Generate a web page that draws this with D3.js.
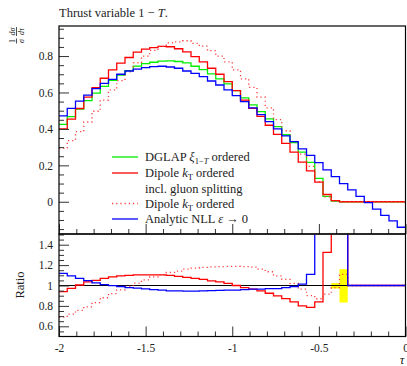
<!DOCTYPE html>
<html>
<head>
<meta charset="utf-8">
<script src="https://cdn.jsdelivr.net/npm/d3@7"></script>
<style>
  body { margin: 0; background: #fff; }
  text { font-family: "Liberation Serif", "DejaVu Serif", serif; fill: #222; }
</style>
</head>
<body>
<div id="chart"></div>
<script>
// 42 bins in tau from -2 to 0
var nBins = 42;
var tauEdges = d3.range(nBins + 1).map(i => -2 + 2 * i / nBins);

// main panel: 1/sigma dsigma/dtau
var dglap = [0.425, 0.467, 0.509, 0.555, 0.597, 0.634, 0.667, 0.695, 0.720, 0.745,
    0.758, 0.766, 0.772, 0.773, 0.770, 0.762, 0.744, 0.725, 0.702, 0.675,
    0.647, 0.610, 0.570, 0.532, 0.495, 0.455, 0.412, 0.368, 0.325, 0.272,
    0.216, 0.128, 0.030, 0.003, 0, 0, 0, 0, 0, 0, 0, 0];
var dipole = [0.400, 0.454, 0.512, 0.574, 0.627, 0.678, 0.724, 0.761, 0.792, 0.822,
    0.838, 0.846, 0.853, 0.851, 0.840, 0.823, 0.797, 0.768, 0.733, 0.700,
    0.660, 0.610, 0.558, 0.513, 0.469, 0.420, 0.370, 0.321, 0.273, 0.218,
    0.170, 0.108, 0.040, 0.006, 0, 0, 0, 0, 0, 0, 0, 0];
var dipoleNoSplit = [0.293, 0.336, 0.385, 0.438, 0.497, 0.558, 0.614, 0.665, 0.713, 0.762,
    0.800, 0.831, 0.853, 0.872, 0.878, 0.884, 0.870, 0.854, 0.830, 0.800,
    0.768, 0.724, 0.675, 0.628, 0.574, 0.516, 0.451, 0.390, 0.331, 0.262,
    0.194, 0.111, 0.027, 0.003, 0, 0, 0, 0, 0, 0, 0, 0];
var analytic = [0.472, 0.513, 0.553, 0.586, 0.621, 0.650, 0.672, 0.700, 0.718, 0.728,
    0.736, 0.742, 0.744, 0.740, 0.733, 0.718, 0.705, 0.687, 0.663, 0.641,
    0.614, 0.583, 0.550, 0.516, 0.478, 0.440, 0.400, 0.362, 0.330, 0.290,
    0.255, 0.215, 0.175, 0.138, 0.100, 0.065, 0.030, -0.005, -0.040, -0.075,
    -0.105, -0.140];

// ratio panel (to DGLAP)
var ratioDipole = [0.94, 0.972, 1.005, 1.035, 1.05, 1.07, 1.085, 1.095, 1.10, 1.105,
    1.105, 1.105, 1.105, 1.10, 1.09, 1.08, 1.07, 1.06, 1.045, 1.035,
    1.02, 1.0, 0.98, 0.965, 0.947, 0.924, 0.898, 0.872, 0.84, 0.80,
    0.785, 0.84, 1.325, 2.5, 2.5, 1, 1, 1, 1, 1, 1, 1];
var ratioDipoleNoSplit = [0.69, 0.72, 0.757, 0.79, 0.833, 0.88, 0.92, 0.957, 0.99, 1.023,
    1.055, 1.085, 1.105, 1.128, 1.14, 1.16, 1.17, 1.178, 1.183, 1.186,
    1.187, 1.187, 1.185, 1.18, 1.16, 1.135, 1.095, 1.06, 1.02, 0.964,
    0.90, 0.87, 0.915, 0.98, 1.11, 1, 1, 1, 1, 1, 1, 1];
var ratioAnalytic = [1.118, 1.095, 1.07, 1.048, 1.026, 1.008, 0.998, 0.99, 0.98, 0.975,
    0.967, 0.96, 0.954, 0.947, 0.947, 0.944, 0.944, 0.947, 0.95, 0.952,
    0.954, 0.954, 0.96, 0.964, 0.964, 0.97, 0.97, 0.98, 0.99, 1.013,
    1.11, 2.5, 2.5, 2.5, 2.5, 1, 1, 1, 1, 1, 1, 1];

// yellow uncertainty band in the ratio panel
var bandBins = [33, 34];
var bandLow = [0.97, 0.833];
var bandHigh = [1.023, 1.16];

var mainTicks = [0, 0.2, 0.4, 0.6, 0.8];
var ratioTicks = [0.6, 0.8, 1, 1.2, 1.4];
var xTicks = [-2, -1.5, -1, -0.5, 0];

var width = 407, height = 366;
var left = 59, right = 405.5;
var mainTop = 26, mainBottom = 234, ratioTop = 234.5, ratioBottom = 336.5;

var svg = d3.select("#chart").append("svg")
    .attr("width", width)
    .attr("height", height);

var x = d3.scaleLinear().domain([-2, 0]).range([left, right]);
var yMain = d3.scaleLinear().domain([-0.177, 0.965]).range([mainBottom, mainTop]);
var yRatio = d3.scaleLinear().domain([0.5, 1.5]).range([ratioBottom, ratioTop]);

var defs = svg.append("defs");
defs.append("clipPath").attr("id", "clipMain").append("rect")
    .attr("x", left).attr("y", mainTop).attr("width", right - left).attr("height", mainBottom - mainTop);
defs.append("clipPath").attr("id", "clipRatio").append("rect")
    .attr("x", left).attr("y", ratioTop).attr("width", right - left).attr("height", ratioBottom - ratioTop);

function stepPoints(vals) {
    var pts = vals.map((v, i) => [tauEdges[i], v]);
    pts.push([tauEdges[nBins], vals[nBins - 1]]);
    return pts;
}
function stepLine(yScale) {
    return d3.line().x(d => x(d[0])).y(d => yScale(d[1])).curve(d3.curveStepAfter);
}

var series = [
    { main: dglap, ratio: null, color: "#00ee00", dash: null },
    { main: dipole, ratio: ratioDipole, color: "#ff0000", dash: null },
    { main: dipoleNoSplit, ratio: ratioDipoleNoSplit, color: "#ff3b3b", dash: "1.2,3" },
    { main: analytic, ratio: ratioAnalytic, color: "#0000ff", dash: null }
];

// Title
svg.append("text")
    .attr("x", 59).attr("y", 17)
    .style("font-size", "12.5px")
    .html("Thrust variable 1 \u2212 <tspan font-style='italic'>T</tspan>.");

// main panel lines
var gMain = svg.append("g").attr("clip-path", "url(#clipMain)");
series.forEach(function (s) {
    gMain.append("path")
        .attr("d", stepLine(yMain)(stepPoints(s.main)))
        .attr("fill", "none")
        .attr("stroke", s.color)
        .attr("stroke-width", 1.3)
        .attr("stroke-dasharray", s.dash);
});

// ratio panel
var gRatio = svg.append("g").attr("clip-path", "url(#clipRatio)");
gRatio.selectAll("rect.band")
    .data(bandBins)
    .enter()
    .append("rect")
    .attr("class", "band")
    .attr("x", d => x(tauEdges[d]))
    .attr("width", d => x(tauEdges[d + 1]) - x(tauEdges[d]))
    .attr("y", (d, i) => yRatio(bandHigh[i]))
    .attr("height", (d, i) => yRatio(bandLow[i]) - yRatio(bandHigh[i]))
    .attr("fill", "#ffff00");
gRatio.append("line")
    .attr("x1", left).attr("x2", right)
    .attr("y1", yRatio(1)).attr("y2", yRatio(1))
    .attr("stroke", "#000").attr("stroke-width", 1.2);
series.filter(s => s.ratio).forEach(function (s) {
    gRatio.append("path")
        .attr("d", stepLine(yRatio)(stepPoints(s.ratio)))
        .attr("fill", "none")
        .attr("stroke", s.color)
        .attr("stroke-width", 1.3)
        .attr("stroke-dasharray", s.dash);
});

// axes
function styleAxis(g) {
    g.select(".domain").remove();
    g.selectAll(".tick line").attr("stroke", "#333");
    g.selectAll(".tick text")
        .style("font-family", "'Liberation Serif', serif")
        .style("font-size", "11.5px")
        .attr("fill", "#222");
}
var minorMain = d3.range(-0.15, 0.951, 0.05).filter(v => Math.abs(Math.round(v * 20) % 4) != 0);
var minorRatio = d3.range(0.55, 1.501, 0.05).filter(v => Math.abs(Math.round(v * 20) % 4) != 0);
var minorX = d3.range(-1.9, -0.05, 0.1).filter(v => Math.abs(Math.round(v * 10) % 5) != 0);

svg.append("g").attr("transform", "translate(" + left + ",0)")
    .call(d3.axisLeft(yMain).tickValues(mainTicks).tickSize(-10).tickPadding(6).tickFormat(d => String(d)))
    .call(styleAxis);
svg.append("g").attr("transform", "translate(" + left + ",0)")
    .call(d3.axisLeft(yMain).tickValues(minorMain).tickSize(-5).tickFormat(""))
    .call(styleAxis);
svg.append("g").attr("transform", "translate(" + left + ",0)")
    .call(d3.axisLeft(yRatio).tickValues(ratioTicks).tickSize(-10).tickPadding(6).tickFormat(d => String(d)))
    .call(styleAxis);
svg.append("g").attr("transform", "translate(" + left + ",0)")
    .call(d3.axisLeft(yRatio).tickValues(minorRatio).tickSize(-5).tickFormat(""))
    .call(styleAxis);

[mainBottom, ratioBottom].forEach(function (yy, k) {
    svg.append("g").attr("transform", "translate(0," + yy + ")")
        .call(d3.axisBottom(x).tickValues(xTicks).tickSize(-10).tickPadding(7)
            .tickFormat(k == 1 ? (d => String(d)) : ""))
        .call(styleAxis);
    svg.append("g").attr("transform", "translate(0," + yy + ")")
        .call(d3.axisBottom(x).tickValues(minorX).tickSize(-5).tickFormat(""))
        .call(styleAxis);
});

// frames
svg.append("rect")
    .attr("x", left).attr("y", mainTop).attr("width", right - left).attr("height", mainBottom - mainTop)
    .attr("fill", "none").attr("stroke", "#000").attr("stroke-width", 1.2);
svg.append("rect")
    .attr("x", left).attr("y", mainBottom).attr("width", right - left).attr("height", ratioBottom - mainBottom)
    .attr("fill", "none").attr("stroke", "#000").attr("stroke-width", 1.2);

// axis titles
svg.append("text")
    .attr("x", 402).attr("y", 364)
    .attr("text-anchor", "middle")
    .style("font-size", "13px").style("font-style", "italic")
    .text("\u03c4");
svg.append("text")
    .attr("transform", "translate(24,285) rotate(-90)")
    .attr("text-anchor", "middle")
    .style("font-size", "12.5px")
    .text("Ratio");

var yl = svg.append("g").attr("transform", "translate(16,36) rotate(-90)");
var frac = [
    { u: -5, top: "1", bot: "\u03c3", w: 5 },
    { u: 4.5, top: "d\u03c3", bot: "d\u03c4", w: 9 }
];
frac.forEach(function (f) {
    yl.append("text").attr("x", f.u).attr("y", -1.5).attr("text-anchor", "middle")
        .style("font-size", "8px").style("font-style", f.top == "1" ? "normal" : "italic").text(f.top);
    yl.append("text").attr("x", f.u).attr("y", 7.5).attr("text-anchor", "middle")
        .style("font-size", "8px").style("font-style", "italic").text(f.bot);
    yl.append("line").attr("x1", f.u - f.w / 2).attr("x2", f.u + f.w / 2)
        .attr("y1", 0.5).attr("y2", 0.5).attr("stroke", "#222").attr("stroke-width", 0.8);
});

// legend
var legendRows = [
    { y: 157, color: "#00ee00", dash: null,
      html: "DGLAP <tspan font-style='italic'>\u03be</tspan><tspan dy='3' font-size='8.5px'>1\u2212<tspan font-style='italic'>T</tspan></tspan><tspan dy='-3'> ordered</tspan>" },
    { y: 173, color: "#ff0000", dash: null,
      html: "Dipole <tspan font-style='italic'>k</tspan><tspan dy='3' font-size='8.5px'>T</tspan><tspan dy='-3'> ordered</tspan>" },
    { y: 188.5, color: null, dash: null, html: "incl. gluon splitting" },
    { y: 203.5, color: "#ff3b3b", dash: "1.2,3",
      html: "Dipole <tspan font-style='italic'>k</tspan><tspan dy='3' font-size='8.5px'>T</tspan><tspan dy='-3'> ordered</tspan>" },
    { y: 219, color: "#0000ff", dash: null,
      html: "Analytic NLL <tspan font-style='italic'>\u03b5</tspan> \u2192 0" }
];
var legend = svg.append("g").attr("id", "legend");
legendRows.forEach(function (r) {
    if (r.color) {
        legend.append("line")
            .attr("x1", 112).attr("x2", 138).attr("y1", r.y).attr("y2", r.y)
            .attr("stroke", r.color).attr("stroke-width", 1.3)
            .attr("stroke-dasharray", r.dash);
    }
    legend.append("text")
        .attr("x", 145).attr("y", r.y + 4.2)
        .style("font-size", "12.5px")
        .html(r.html);
});
</script>
</body>
</html>
